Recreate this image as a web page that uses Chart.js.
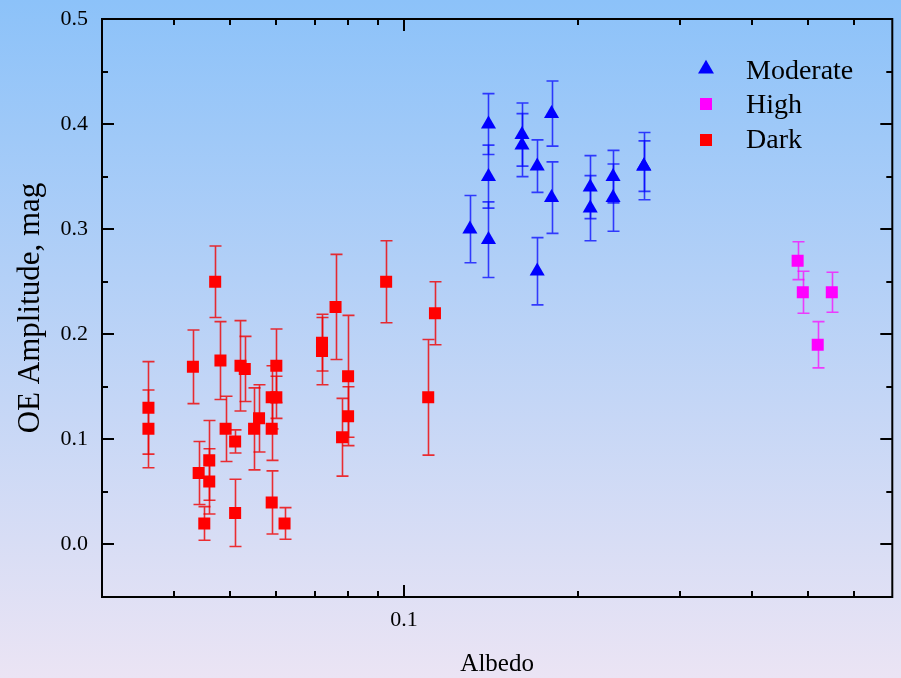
<!DOCTYPE html>
<html>
<head>
<meta charset="utf-8">
<script src="https://cdn.jsdelivr.net/npm/chart.js@4.4.1/dist/chart.umd.min.js"></script>
<style>
html,body{margin:0;padding:0;background:#fff;}
#wrap{width:901px;height:678px;position:relative;}
canvas{display:block;}
</style>
</head>
<body>
<div id="wrap"><canvas id="c" width="901" height="678"></canvas></div>
<script>
// ---- data ----
const seriesNames = ['Moderate', 'High', 'Dark'];

const moderateAlbedo = [0.130, 0.140, 0.140, 0.140, 0.160, 0.160, 0.170, 0.170, 0.180, 0.180, 0.210, 0.210, 0.230, 0.230, 0.260, 0.260];
const moderateAmp    = [0.300, 0.400, 0.350, 0.290, 0.390, 0.380, 0.360, 0.260, 0.410, 0.330, 0.340, 0.320, 0.350, 0.330, 0.360, 0.360];
const moderateErr    = [0.032, 0.029, 0.030, 0.036, 0.030, 0.030, 0.025, 0.032, 0.031, 0.034, 0.030, 0.031, 0.025, 0.032, 0.032, 0.024];

const highAlbedo = [0.480, 0.490, 0.520, 0.550];
const highAmp    = [0.270, 0.240, 0.190, 0.240];
const highErr    = [0.018, 0.020, 0.022, 0.019];

const darkAlbedo = [0.0361, 0.0361, 0.0431, 0.0471, 0.0481, 0.0521, 0.0530, 0.0601, 0.0590, 0.0601, 0.0590, 0.0590, 0.0491, 0.0510, 0.0510, 0.0550,
                    0.0561, 0.0441, 0.0460, 0.0460, 0.0451, 0.0621, 0.0721, 0.0721, 0.0761, 0.0800, 0.0800, 0.0781, 0.0931, 0.1131, 0.1101];
const darkAmp    = [0.130, 0.110, 0.169, 0.250, 0.175, 0.170, 0.167, 0.170, 0.140, 0.140, 0.110, 0.040, 0.110, 0.098, 0.030, 0.110,
                    0.120, 0.068, 0.080, 0.060, 0.020, 0.020, 0.192, 0.184, 0.226, 0.160, 0.122, 0.102, 0.250, 0.220, 0.140];
const darkErr    = [0.044, 0.037, 0.035, 0.034, 0.037, 0.043, 0.031, 0.035, 0.030, 0.020, 0.030, 0.030, 0.031, 0.011, 0.032, 0.039,
                    0.032, 0.030, 0.038, 0.031, 0.016, 0.015, 0.027, 0.032, 0.050, 0.058, 0.028, 0.037, 0.039, 0.030, 0.055];

const xTickValues  = [0.04, 0.05, 0.06, 0.07, 0.08, 0.09, 0.1, 0.2, 0.3, 0.4, 0.5, 0.6];
const xLabelValues = [0.1];
const yTickValues  = [0.0, 0.1, 0.2, 0.3, 0.4, 0.5];
const yMinorValues = [0.05, 0.15, 0.25, 0.35, 0.45];

const xTitle = 'Albedo';
const yTitle = 'OE Amplitude, mag';

// ---- build ----
function pts(xs, ys) { return xs.map((x, i) => ({ x: x, y: ys[i] })); }

const SERIF = '"Liberation Serif", "Times New Roman", serif';

const datasets = [
  { label: seriesNames[0], data: pts(moderateAlbedo, moderateAmp), err: moderateErr,
    pointStyle: 'triangle', pointRadius: 8.7, backgroundColor: '#0000ff', borderColor: '#0000ff', borderWidth: 0,
    barColor: 'rgba(0,0,255,0.72)' },
  { label: seriesNames[1], data: pts(highAlbedo, highAmp), err: highErr,
    pointStyle: 'rect', pointRadius: 8.5, backgroundColor: '#ff00ff', borderColor: '#ff00ff', borderWidth: 0,
    barColor: 'rgba(255,0,255,0.72)' },
  { label: seriesNames[2], data: pts(darkAlbedo, darkAmp), err: darkErr,
    pointStyle: 'rect', pointRadius: 8.5, backgroundColor: '#ff0000', borderColor: '#ff0000', borderWidth: 0,
    barColor: 'rgba(240,0,0,0.8)' }
];

const bgPlugin = {
  id: 'bg',
  beforeDraw(chart) {
    const ctx = chart.ctx;
    const g = ctx.createLinearGradient(0, 0, 0, chart.height);
    g.addColorStop(0, '#8cc2f9');
    g.addColorStop(1, '#ebe4f4');
    ctx.save();
    ctx.fillStyle = g;
    ctx.fillRect(0, 0, chart.width, chart.height);
    ctx.restore();
  }
};

const errPlugin = {
  id: 'errbars',
  beforeDatasetsDraw(chart) {
    const ctx = chart.ctx;
    const xs = chart.scales.x, ys = chart.scales.y;
    ctx.save();
    ctx.lineWidth = 1.6;
    chart.data.datasets.forEach(ds => {
      ctx.strokeStyle = ds.barColor;
      ds.data.forEach((p, i) => {
        const e = ds.err[i];
        const px = Math.round(xs.getPixelForValue(p.x)) + 0.5;
        const pt = ys.getPixelForValue(p.y + e);
        const pb = ys.getPixelForValue(p.y - e);
        ctx.beginPath();
        ctx.moveTo(px, pt); ctx.lineTo(px, pb);
        ctx.moveTo(px - 6, pt); ctx.lineTo(px + 6, pt);
        ctx.moveTo(px - 6, pb); ctx.lineTo(px + 6, pb);
        ctx.stroke();
      });
    });
    ctx.restore();
  }
};

const framePlugin = {
  id: 'frame',
  afterDatasetsDraw(chart) {
    const ctx = chart.ctx;
    const { left, right, top, bottom } = chart.chartArea;
    const xs = chart.scales.x, ys = chart.scales.y;
    ctx.save();
    ctx.strokeStyle = '#000';
    ctx.lineWidth = 2;
    ctx.beginPath();
    ctx.rect(left, top, right - left, bottom - top);
    ctx.stroke();
    ctx.beginPath();
    xTickValues.forEach(v => {
      const px = Math.round(xs.getPixelForValue(v));
      const len = xLabelValues.includes(v) ? 12 : 6;
      ctx.moveTo(px, bottom); ctx.lineTo(px, bottom - len);
      ctx.moveTo(px, top); ctx.lineTo(px, top + len);
    });
    yTickValues.forEach(v => {
      const py = Math.round(ys.getPixelForValue(v));
      ctx.moveTo(left, py); ctx.lineTo(left + 12, py);
      ctx.moveTo(right, py); ctx.lineTo(right - 12, py);
    });
    yMinorValues.forEach(v => {
      const py = Math.round(ys.getPixelForValue(v));
      ctx.moveTo(left, py); ctx.lineTo(left + 6, py);
      ctx.moveTo(right, py); ctx.lineTo(right - 6, py);
    });
    ctx.stroke();

    // legend
    const lx = 706, tx = 746;
    const rows = [69, 104, 140];
    const base = [79, 113, 148];
    ctx.font = '28px ' + SERIF;
    ctx.textAlign = 'left';
    ctx.textBaseline = 'alphabetic';
    chart.data.datasets.forEach((ds, i) => {
      ctx.fillStyle = ds.backgroundColor;
      ctx.beginPath();
      if (ds.pointStyle === 'triangle') {
        const r = 9.2;
        ctx.moveTo(lx, rows[i] - r);
        ctx.lineTo(lx + r * 0.866, rows[i] + r * 0.5);
        ctx.lineTo(lx - r * 0.866, rows[i] + r * 0.5);
        ctx.closePath();
      } else {
        ctx.rect(lx - 6, rows[i] - 6, 12, 12);
      }
      ctx.fill();
      ctx.fillStyle = '#000';
      ctx.fillText(ds.label, tx, base[i]);
    });
    ctx.restore();
  }
};

new Chart(document.getElementById('c'), {
  type: 'scatter',
  data: { datasets: datasets },
  options: {
    responsive: false,
    animation: false,
    events: [],
    devicePixelRatio: 1,
    layout: { padding: { top: 19, right: 7, left: 0, bottom: 0 } },
    plugins: { legend: { display: false }, tooltip: { enabled: false } },
    scales: {
      x: {
        type: 'logarithmic',
        min: 0.03, max: 0.7,
        afterBuildTicks(scale) { scale.ticks = xTickValues.map(v => ({ value: v })); },
        afterFit(scale) { scale.height = 81; scale.paddingLeft = 0; scale.paddingRight = 0; },
        grid: { display: false, drawTicks: false },
        border: { display: false },
        ticks: {
          autoSkip: false, maxRotation: 0, padding: 10,
          color: '#000', font: { family: SERIF, size: 22 },
          callback(v) { return xLabelValues.includes(v) ? String(v) : ''; }
        },
        title: { display: true, text: xTitle, color: '#000', font: { family: SERIF, size: 25 }, padding: { top: 0, bottom: -1 } }
      },
      y: {
        type: 'linear',
        min: -0.05, max: 0.5,
        afterBuildTicks(scale) { scale.ticks = yTickValues.map(v => ({ value: v })); },
        afterFit(scale) { scale.width = 102; scale.paddingTop = 0; scale.paddingBottom = 0; },
        grid: { display: false, drawTicks: false },
        border: { display: false },
        ticks: {
          padding: 14,
          color: '#000', font: { family: SERIF, size: 22 },
          callback(v) { return Number(v).toFixed(1); }
        },
        title: { display: true, text: yTitle, color: '#000', font: { family: SERIF, size: 31 }, padding: { top: 12, bottom: 0 } }
      }
    }
  },
  plugins: [bgPlugin, errPlugin, framePlugin]
});
</script>
</body>
</html>
